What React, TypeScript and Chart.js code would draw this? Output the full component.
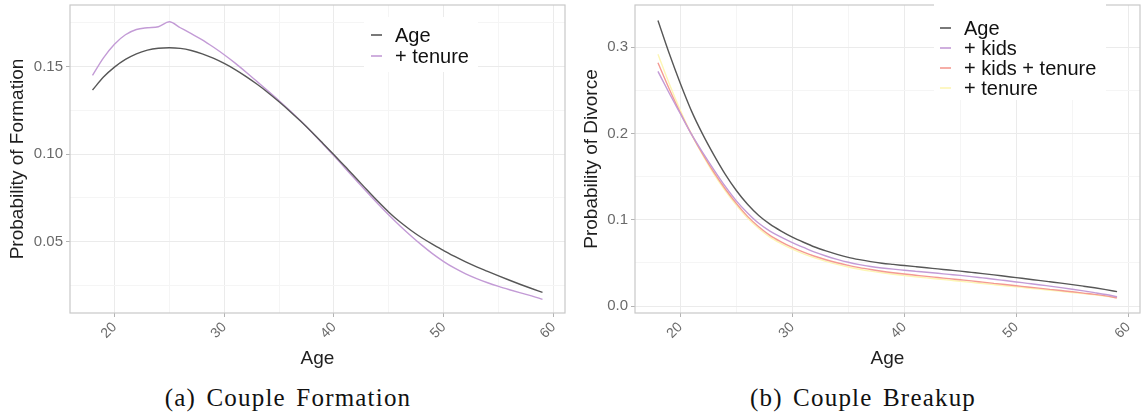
import React, { useEffect, useRef } from 'react';
import { Chart, registerables } from 'chart.js';

Chart.register(...registerables);

// Ages on the horizontal axis (both panels)
const AGES = [
  18, 19, 20, 21, 22, 23, 24, 25, 26, 27, 28, 29, 30, 31, 32, 33, 34, 35, 36, 37, 38,
  39, 40, 41, 42, 43, 44, 45, 46, 47, 48, 49, 50, 51, 52, 53, 54, 55, 56, 57, 58, 59,
];

// Panel (a): probability of couple formation
const FORMATION_AGE = [
  0.1366, 0.1440, 0.1497, 0.1541, 0.1573, 0.1594, 0.1605, 0.1608, 0.1604, 0.1592, 0.1573,
  0.1548, 0.1518, 0.1483, 0.1443, 0.1399, 0.1351, 0.1299, 0.1244, 0.1186, 0.1125, 0.1061,
  0.0996, 0.0930, 0.0864, 0.0796, 0.0730, 0.0668, 0.0613, 0.0565, 0.0522, 0.0484, 0.0449,
  0.0415, 0.0384, 0.0356, 0.0330, 0.0304, 0.0279, 0.0255, 0.0232, 0.0210,
];
const FORMATION_TENURE = [
  0.1450, 0.1550, 0.1628, 0.1682, 0.1712, 0.1722, 0.1728, 0.1756, 0.1722, 0.1688, 0.1653,
  0.1612, 0.1568, 0.1520, 0.1468, 0.1414, 0.1360, 0.1305, 0.1248, 0.1188, 0.1124, 0.1058,
  0.0990, 0.0921, 0.0852, 0.0783, 0.0716, 0.0652, 0.0591, 0.0534, 0.0480, 0.0430, 0.0386,
  0.0348, 0.0316, 0.0289, 0.0265, 0.0244, 0.0225, 0.0207, 0.0190, 0.0170,
];

// Panel (b): probability of divorce
const BREAKUP_AGE = [
  0.331, 0.293, 0.258, 0.226, 0.199, 0.175, 0.153, 0.134, 0.118, 0.105, 0.095,
  0.087, 0.080, 0.0740, 0.0685, 0.0640, 0.0600, 0.0565, 0.0538, 0.0515, 0.0497, 0.0483,
  0.0470, 0.0457, 0.0444, 0.0431, 0.0418, 0.0405, 0.0391, 0.0377, 0.0362, 0.0346, 0.0330,
  0.0314, 0.0298, 0.0282, 0.0266, 0.0249, 0.0231, 0.0212, 0.0191, 0.0168,
];
const BREAKUP_KIDS = [
  0.272, 0.247, 0.223, 0.199, 0.178, 0.158, 0.139, 0.122, 0.108, 0.096, 0.087,
  0.080, 0.0735, 0.0680, 0.0626, 0.0581, 0.0542, 0.0508, 0.0481, 0.0459, 0.0442, 0.0428,
  0.0416, 0.0404, 0.0392, 0.0380, 0.0368, 0.0356, 0.0342, 0.0327, 0.0312, 0.0296, 0.0280,
  0.0264, 0.0248, 0.0231, 0.0214, 0.0196, 0.0177, 0.0156, 0.0134, 0.0109,
];
const BREAKUP_KIDS_TENURE = [
  0.282, 0.252, 0.224, 0.199, 0.176, 0.155, 0.136, 0.119, 0.104, 0.092, 0.082,
  0.0745, 0.0680, 0.0625, 0.0578, 0.0537, 0.0502, 0.0472, 0.0446, 0.0424, 0.0404, 0.0387,
  0.0372, 0.0358, 0.0344, 0.0331, 0.0318, 0.0305, 0.0292, 0.0278, 0.0264, 0.0250, 0.0236,
  0.0222, 0.0208, 0.0194, 0.0180, 0.0166, 0.0151, 0.0136, 0.0118, 0.0095,
];
const BREAKUP_TENURE = [
  0.292, 0.258, 0.227, 0.199, 0.175, 0.153, 0.134, 0.117, 0.102, 0.090, 0.080,
  0.0725, 0.0660, 0.0606, 0.0559, 0.0518, 0.0483, 0.0453, 0.0427, 0.0405, 0.0386, 0.0369,
  0.0354, 0.0340, 0.0327, 0.0314, 0.0301, 0.0288, 0.0275, 0.0262, 0.0249, 0.0236, 0.0223,
  0.0210, 0.0197, 0.0184, 0.0171, 0.0158, 0.0144, 0.0130, 0.0114, 0.0098,
];

// Tick positions and labels (empty label = minor gridline)
const X_TICKS = [20, 25, 30, 35, 40, 45, 50, 55, 60];
const X_LABELS = ['20', '', '30', '', '40', '', '50', '', '60'];
const Y_TICKS_A = [0.025, 0.05, 0.075, 0.1, 0.125, 0.15, 0.175];
const Y_LABELS_A = ['', '0.05', '', '0.10', '', '0.15', ''];
const Y_TICKS_B = [0, 0.05, 0.1, 0.15, 0.2, 0.25, 0.3];
const Y_LABELS_B = ['0.0', '', '0.1', '', '0.2', '', '0.3'];

const SERIES_A = ['Age', '+ tenure'];
const SERIES_B = ['Age', '+ kids', '+ kids + tenure', '+ tenure'];

const GREY = '#575757';
const PURPLE = '#c39bd6';
const SALMON = '#f49a92';
const YELLOW = '#fdf6b4';

const SANS = '"Liberation Sans", Arial, sans-serif';

// Panel frame drawn over the data, like a ggplot panel border
const panelBorder = {
  id: 'panelBorder',
  afterDatasetsDraw(chart: any) {
    const { ctx, chartArea } = chart;
    ctx.save();
    ctx.strokeStyle = '#c9c9c9';
    ctx.lineWidth = 1.2;
    ctx.strokeRect(chartArea.left, chartArea.top, chartArea.right - chartArea.left, chartArea.bottom - chartArea.top);
    ctx.restore();
  },
};

// Legend inside the panel with a white key box
const boxLegend = {
  id: 'boxLegend',
  afterDraw(chart: any, _args: any, opts: any) {
    if (!opts || !opts.box) return;
    const { ctx } = chart;
    ctx.save();
    ctx.fillStyle = '#ffffff';
    ctx.fillRect(opts.box[0], opts.box[1], opts.box[2], opts.box[3]);
    ctx.font = `20px ${SANS}`;
    ctx.textBaseline = 'middle';
    ctx.textAlign = 'left';
    chart.data.datasets.forEach((ds: any, i: number) => {
      const y = opts.y0 + i * opts.step;
      ctx.strokeStyle = ds.borderColor;
      ctx.lineWidth = 1.6;
      ctx.beginPath();
      ctx.moveTo(opts.x, y);
      ctx.lineTo(opts.x + 11, y);
      ctx.stroke();
      ctx.fillStyle = '#111';
      ctx.fillText(ds.label, opts.x + 24, y + 1);
    });
    ctx.restore();
  },
};

type PanelSpec = {
  labels: string[];
  series: number[][];
  colors: string[];
  yTitle: string;
  yMin: number;
  yMax: number;
  yTicks: number[];
  yLabels: string[];
  yAxisWidth: number;
  yTitlePad: number;
  rightPad: number;
  legend: any;
};

function buildConfig(p: PanelSpec): any {
  const isMajorX = (v: number) => X_LABELS[X_TICKS.indexOf(v)] !== '';
  const isMajorY = (v: number) => p.yLabels[p.yTicks.indexOf(v)] !== '';
  return {
    type: 'line',
    data: {
      datasets: p.labels.map((label, k) => ({
        label,
        data: AGES.map((a, i) => ({ x: a, y: p.series[k][i] })),
        borderColor: p.colors[k],
        backgroundColor: p.colors[k],
        borderWidth: 1.4,
        pointRadius: 0,
        fill: false,
        cubicInterpolationMode: 'monotone',
      })),
    },
    options: {
      responsive: false,
      animation: false,
      events: [],
      layout: { padding: { left: 0, right: p.rightPad, top: 5, bottom: 0 } },
      plugins: {
        legend: { display: false },
        tooltip: { enabled: false },
        boxLegend: p.legend,
      },
      scales: {
        x: {
          type: 'linear',
          min: 15.95,
          max: 61.05,
          afterBuildTicks: (axis: any) => {
            axis.ticks = X_TICKS.map((v) => ({ value: v }));
          },
          afterFit: (axis: any) => {
            axis.height = 57;
            axis.paddingLeft = 0;
            axis.paddingRight = 0;
          },
          border: { display: false },
          grid: {
            color: (c: any) => (c.tick && isMajorX(c.tick.value) ? '#ebebeb' : '#f5f5f5'),
            lineWidth: 1,
            tickLength: 4,
            tickColor: (c: any) => (c.tick && isMajorX(c.tick.value) ? '#b3b3b3' : 'rgba(0,0,0,0)'),
          },
          ticks: {
            autoSkip: false,
            minRotation: 45,
            maxRotation: 45,
            padding: 2,
            color: '#6a6a6a',
            font: { family: SANS, size: 14 },
            callback: (v: any) => X_LABELS[X_TICKS.indexOf(v)] ?? '',
          },
          title: {
            display: true,
            text: 'Age',
            color: '#1e1e1e',
            font: { family: SANS, size: 19 },
            padding: { top: 5, bottom: 0 },
          },
        },
        y: {
          type: 'linear',
          min: p.yMin,
          max: p.yMax,
          afterBuildTicks: (axis: any) => {
            axis.ticks = p.yTicks.map((v) => ({ value: v }));
          },
          afterFit: (axis: any) => {
            axis.width = p.yAxisWidth;
            axis.paddingTop = 0;
            axis.paddingBottom = 0;
          },
          border: { display: false },
          grid: {
            color: (c: any) => (c.tick && isMajorY(c.tick.value) ? '#ebebeb' : '#f5f5f5'),
            lineWidth: 1,
            tickLength: 4,
            tickColor: (c: any) => (c.tick && isMajorY(c.tick.value) ? '#b3b3b3' : 'rgba(0,0,0,0)'),
          },
          ticks: {
            padding: 3,
            color: '#6a6a6a',
            font: { family: SANS, size: 15 },
            callback: (v: any) => p.yLabels[p.yTicks.indexOf(v)] ?? '',
          },
          title: {
            display: true,
            text: p.yTitle,
            color: '#1e1e1e',
            font: { family: SANS, size: 19 },
            padding: { top: p.yTitlePad, bottom: 0 },
          },
        },
      },
    },
    plugins: [panelBorder, boxLegend],
  };
}

function Panel({ spec, width, height }: { spec: PanelSpec; width: number; height: number }) {
  const ref = useRef<HTMLCanvasElement | null>(null);
  useEffect(() => {
    if (!ref.current) return;
    const chart = new Chart(ref.current, buildConfig(spec));
    return () => chart.destroy();
  }, [spec]);
  return <canvas ref={ref} width={width} height={height} style={{ display: 'block', width, height }} />;
}

const PANEL_A: PanelSpec = {
  labels: SERIES_A,
  series: [FORMATION_AGE, FORMATION_TENURE],
  colors: [GREY, PURPLE],
  yTitle: 'Probability of Formation',
  yMin: 0.0092,
  yMax: 0.1852,
  yTicks: Y_TICKS_A,
  yLabels: Y_LABELS_A,
  yAxisWidth: 70,
  yTitlePad: 6,
  rightPad: 5,
  legend: { box: [364, 17, 114, 55], x: 371, y0: 35, step: 21 },
};

const PANEL_B: PanelSpec = {
  labels: SERIES_B,
  series: [BREAKUP_AGE, BREAKUP_KIDS, BREAKUP_KIDS_TENURE, BREAKUP_TENURE],
  colors: [GREY, PURPLE, SALMON, YELLOW],
  yTitle: 'Probability of Divorce',
  yMin: -0.008,
  yMax: 0.349,
  yTicks: Y_TICKS_B,
  yLabels: Y_LABELS_B,
  yAxisWidth: 65,
  yTitlePad: 10,
  rightPad: 3,
  legend: { box: [364, 1, 172, 99], x: 370, y0: 28, step: 20 },
};

const captionStyle: React.CSSProperties = {
  position: 'absolute',
  top: 385,
  fontFamily: '"Liberation Serif", "Times New Roman", serif',
  fontSize: 25,
  lineHeight: '25px',
  letterSpacing: '1.2px',
  wordSpacing: '3px',
  color: '#111',
  whiteSpace: 'nowrap',
  transform: 'translateX(-50%)',
};

export default function App() {
  return (
    <div style={{ position: 'absolute', left: 0, top: 0, width: 1143, height: 412, background: '#fff', overflow: 'hidden' }}>
      <div style={{ position: 'absolute', left: 0, top: 0 }}>
        <Panel spec={PANEL_A} width={570} height={370} />
      </div>
      <div style={{ position: 'absolute', left: 570, top: 0 }}>
        <Panel spec={PANEL_B} width={573} height={370} />
      </div>
      <div style={{ ...captionStyle, left: 288 }}>(a) Couple Formation</div>
      <div style={{ ...captionStyle, left: 863 }}>(b) Couple Breakup</div>
    </div>
  );
}
